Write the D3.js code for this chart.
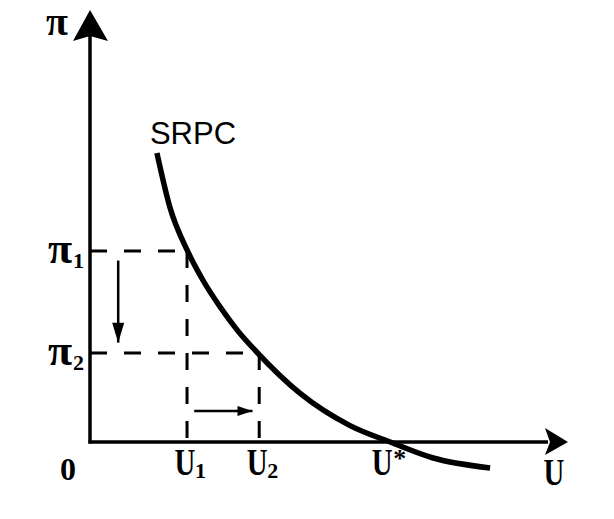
<!DOCTYPE html>
<html>
<head>
<meta charset="utf-8">
<script src="https://cdn.jsdelivr.net/npm/d3@7"></script>
<style>
  html, body { margin: 0; padding: 0; background: #fff; }
  svg { display: block; }
</style>
</head>
<body>
<svg id="chart" width="614" height="519"></svg>
<script>
// ---- data (U = unemployment, π = inflation) ----
const curveU  = [14.0, 16.7, 20.5, 23.6, 27.2, 30.8, 34.9, 43.9, 54.4, 62.8, 71.8, 83.7];
const curvePi = [66.9, 54.4, 44.0, 37.5, 31.3, 25.9, 20.8, 11.3, 3.8, 0.0, -3.7, -6.0];
const uMarks  = [20.3, 35.4, 62.8];          // U1, U2, U*
const uLabels = ["1", "2", "*"];
const piMarks = [44.2, 20.6];                // π1, π2
const piLabels = ["1", "2"];
const curveName = "SRPC";
const downArrow  = {u: 5.9, from: 42.0, to: 23.0};   // π falling
const rightArrow = {pi: 7.2, from: 21.8, to: 34.0};  // U rising

// ---- scales ----
const x = d3.scaleLinear().domain([0, 100]).range([90, 568]);
const y = d3.scaleLinear().domain([0, 100]).range([442, 10]);

const svg = d3.select("#chart");
const ink = "#000";
const serif = "'Liberation Serif', 'Times New Roman', serif";

// dashed guide lines
const dash = "17,17";
piMarks.forEach((p, i) => {
  svg.append("line")
    .attr("x1", x(0)).attr("x2", x(uMarks[i]))
    .attr("y1", y(p)).attr("y2", y(p))
    .attr("stroke", ink).attr("stroke-width", 3).attr("stroke-dasharray", dash);
  svg.append("line")
    .attr("x1", x(uMarks[i])).attr("x2", x(uMarks[i]))
    .attr("y1", y(p)).attr("y2", y(0))
    .attr("stroke", ink).attr("stroke-width", 3).attr("stroke-dasharray", dash);
});

// axes
svg.append("line").attr("x1", x(0)).attr("x2", x(0))
  .attr("y1", y(0) + 1.5).attr("y2", y(100) + 26)
  .attr("stroke", ink).attr("stroke-width", 3.5);
svg.append("line").attr("x1", x(0) - 1.5).attr("x2", x(100) - 20)
  .attr("y1", y(0)).attr("y2", y(0))
  .attr("stroke", ink).attr("stroke-width", 3.5);

// axis arrow heads
const yTip = [x(0), y(100)];
svg.append("path")
  .attr("d", `M${yTip[0]},${yTip[1]} L${yTip[0] + 18},${yTip[1] + 31} L${yTip[0]},${yTip[1] + 26} L${yTip[0] - 17},${yTip[1] + 31} Z`)
  .attr("fill", ink);
const xTip = [x(100), y(0)];
svg.append("path")
  .attr("d", `M${xTip[0]},${xTip[1]} L${xTip[0] - 23},${xTip[1] + 13} L${xTip[0] - 18},${xTip[1]} L${xTip[0] - 23},${xTip[1] - 14} Z`)
  .attr("fill", ink);

// SRPC curve
const pts = curveU.map((u, i) => [u, curvePi[i]]);
const line = d3.line().x(d => x(d[0])).y(d => y(d[1])).curve(d3.curveMonotoneX);
svg.append("path").attr("d", line(pts))
  .attr("fill", "none").attr("stroke", ink).attr("stroke-width", 5.5).attr("stroke-linecap", "butt");

// movement arrows
function arrow(x1, y1, x2, y2, len, half) {
  svg.append("line").attr("x1", x1).attr("y1", y1).attr("x2", x2).attr("y2", y2)
    .attr("stroke", ink).attr("stroke-width", 2.5);
  const a = Math.atan2(y2 - y1, x2 - x1);
  const bx = x2 - len * Math.cos(a), by = y2 - len * Math.sin(a);
  const nx = -Math.sin(a) * half, ny = Math.cos(a) * half;
  svg.append("path")
    .attr("d", `M${x2},${y2} L${bx + nx},${by + ny} L${bx - nx},${by - ny} Z`)
    .attr("fill", ink);
}
arrow(x(downArrow.u), y(downArrow.from), x(downArrow.u), y(downArrow.to), 20, 6);
arrow(x(rightArrow.from), y(rightArrow.pi), x(rightArrow.to), y(rightArrow.pi), 15, 5);

// labels
function label(txt, cx, by, size, anchor) {
  return svg.append("text").attr("x", cx).attr("y", by)
    .attr("font-family", serif).attr("font-weight", "bold")
    .attr("font-size", size).attr("text-anchor", anchor || "middle")
    .attr("fill", ink).text(txt);
}
function condensed(txt, cx, by, size) {
  svg.append("g").attr("transform", `translate(${cx},${by}) scale(0.78,1)`)
    .append("text").attr("x", 0).attr("y", 0)
    .attr("font-family", serif).attr("font-weight", "bold")
    .attr("font-size", size).attr("text-anchor", "middle")
    .attr("fill", ink).text(txt);
}

// π axis label
label("π", x(0) - 33, y(100) + 25, 40);
// π1, π2
piMarks.forEach((p, i) => {
  label("π", x(0) - 30, y(p) + 12, 44);
  label(piLabels[i], x(0) - 17, y(p) + 17, 22, "start");
});
// U1, U2, U*
uMarks.forEach((u, i) => {
  const star = uLabels[i] === "*";
  condensed("U", x(u) - (star ? 8 : 2), y(0) + 33, 37);
  if (star) label("*", x(u) + 3, y(0) + 25, 26, "start");
  else label(uLabels[i], x(u) + 8, y(0) + 36, 22, "start");
});
// origin and U axis label
label("0", x(0) - 22, y(0) + 38, 32);
condensed("U", x(100) - 14, y(0) + 43, 37);

// curve name
svg.append("text").attr("x", x(curveU[0]) - 7).attr("y", y(curvePi[0]) - 9)
  .attr("font-family", "'Liberation Sans', Arial, sans-serif")
  .attr("font-size", 31).attr("fill", ink).text(curveName);
</script>
</body>
</html>
